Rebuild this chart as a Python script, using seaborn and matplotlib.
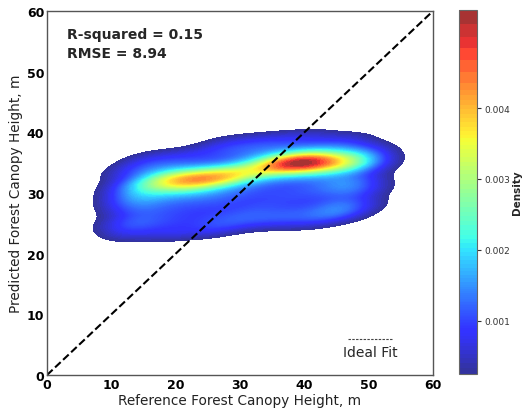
import numpy as np
import pandas as pd
import seaborn as sns
import matplotlib
matplotlib.use("Agg")
import matplotlib.pyplot as plt
from matplotlib.colors import ListedColormap
from matplotlib.offsetbox import VPacker

# Field plots: reference (measured) vs predicted canopy height, m
ref_height = [
    28, 34, 40, 46,
    16, 22, 28, 33, 38, 42, 47, 49,
    13, 17, 21, 25, 29, 33, 36, 38, 40, 42, 44, 47, 49, 50,
    35, 37, 39, 40, 41, 43, 45,
    16, 18, 20, 21, 22, 23, 24, 26, 28, 30, 32,
    19, 25, 27, 30, 34, 36, 38, 40, 41, 44, 47,
    13, 15, 19, 22, 25, 29, 34, 38, 42, 46, 48,
    13, 14, 18, 22, 26, 31, 36, 41, 46, 49,
    13, 16, 21, 27, 33, 39, 45, 48,
    12, 15, 20, 26, 32, 38, 44,
    29, 35, 41, 46,
    13, 19, 25,
]
pred_height = [
    38, 38.5, 39, 38.5,
    35.5, 36, 36.5, 37, 37, 37, 37, 36.5,
    33.5, 34, 34, 34, 34.5, 35.5, 35.5, 35.5, 35.5, 35.5, 35.5, 35, 35.5, 34.5,
    34.5, 34.5, 34.5, 34.8, 34.5, 34.5, 34,
    32, 32.5, 32.5, 32, 32.5, 32, 32.5, 32.5, 33, 33, 33.5,
    32, 32.5, 32.5, 33, 34, 34.5, 35, 35, 35, 35, 34.5,
    31, 31, 31, 31, 31, 31.5, 32, 32.5, 32.5, 32, 32,
    29, 29.5, 29.5, 29.5, 29.5, 30, 30, 30.5, 30.5, 30.5,
    27.5, 27.5, 27.5, 28, 28, 28.5, 28.5, 28,
    25, 25.5, 25.5, 26, 26.5, 26.5, 27,
    25, 25.5, 25.5, 26.5,
    23.5, 23.5, 24,
]

r_squared = 0.15
rmse = 8.94
axis_ticks = [0, 10, 20, 30, 40, 50, 60]
density_ticks = [0.001, 0.002, 0.003, 0.004]

sns.set_style("white")
plt.rcParams["font.family"] = ["DejaVu Sans"]

df = pd.DataFrame({"ref": ref_height, "pred": pred_height})

# jet, softened towards white
base = plt.get_cmap("jet")(np.linspace(0, 1, 256))
soft = base.copy()
soft[:, :3] = 0.8 * base[:, :3] + 0.2
cmap = ListedColormap(soft)

fig = plt.figure(figsize=(5.23, 4.14), dpi=100)
ax = fig.add_axes([0.0899, 0.0918, 0.7381, 0.8792])
cax = fig.add_axes([0.8776, 0.0942, 0.0344, 0.879])

sns.kdeplot(data=df, x="ref", y="pred", fill=True, cmap=cmap,
            levels=100, thresh=0.025, bw_adjust=0.67, gridsize=120,
            clip=((0, 60), (0, 60)),
            cbar=True, cbar_ax=cax,
            cbar_kws={"spacing": "proportional", "ticks": density_ticks},
            ax=ax)

ax.plot([0, 60], [0, 60], color="black", ls="--", lw=1.5, label="Ideal Fit")

ax.set_xlim(0, 60)
ax.set_ylim(0, 60)
ax.set_xticks(axis_ticks)
ax.set_yticks(axis_ticks)
ax.tick_params(direction="in", length=4, width=1, labelsize=9, pad=2,
               colors="#333333", labelcolor="black")
for lab in ax.get_xticklabels() + ax.get_yticklabels():
    lab.set_fontweight("bold")
for sp in ax.spines.values():
    sp.set_color("#555555")
    sp.set_linewidth(1)

ax.set_xlabel("Reference Forest Canopy Height, m", fontsize=9.8, color="#222222")
ax.set_ylabel("Predicted Forest Canopy Height, m", fontsize=9.8, color="#222222")
ax.xaxis.set_label_coords(0.5, -0.05)
ax.yaxis.set_label_coords(-0.062, 0.5)

ax.text(0.052, 0.955, f"R-squared = {r_squared:.2f}\nRMSE = {rmse:.2f}",
        transform=ax.transAxes, ha="left", va="top", fontsize=10,
        fontweight="bold", linespacing=1.4)

leg = ax.legend(loc="lower right", frameon=False, fontsize=10,
                handlelength=3.2, bbox_to_anchor=(0.94, 0.01))
for h in leg.get_lines():
    h.set_linewidth(0.8)
    h.set_color("#444444")
    h.set_linestyle((0, (2.2, 1.2)))
# stack the handle above its label
col = leg._legend_handle_box.get_children()[0]
items = col.get_children()
for i, item in enumerate(items):
    hb, tb = item.get_children()
    col._children[i] = VPacker(children=[hb, tb], align="center", pad=0, sep=1)

cax.tick_params(labelsize=6.5, length=3, pad=2, colors="#333333", labelcolor="#333333")
cax.set_ylabel("Density", fontsize=7.5, fontweight="bold")
cax.yaxis.set_label_coords(2.95, 0.5)
for sp in cax.spines.values():
    sp.set_color("#666666")

fig.savefig("out.png", dpi=100)
